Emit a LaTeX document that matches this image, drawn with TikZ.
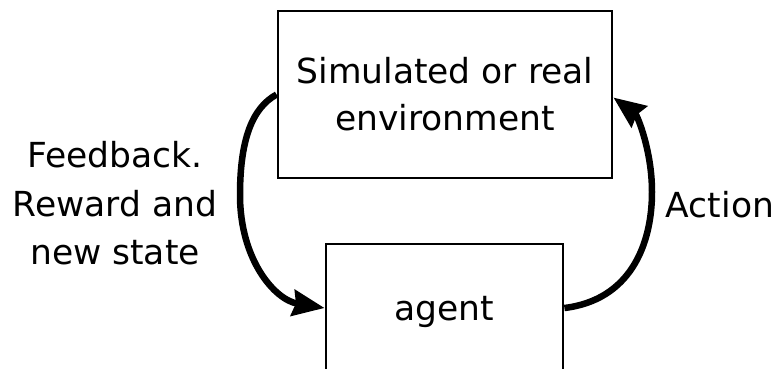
\documentclass[tikz,border=0pt]{standalone}
\usepackage{fontspec}
\setmainfont{DejaVu Sans}
\usetikzlibrary{arrows.meta}
\begin{document}
\begin{tikzpicture}[x=1pt,y=-1pt,
  boxnode/.style={draw=black,line width=2.8pt,fill=white,inner sep=0pt,align=center,
    font=\fontsize{34.5}{47}\selectfont},
  labelnode/.style={inner sep=0pt,align=center,font=\fontsize{34.5}{48.5}\selectfont},
  loop/.style={line width=6.5pt,-{Stealth[length=32pt,width=26pt,inset=3pt]}}]
\useasboundingbox (0,0) rectangle (780,368);
\clip (0,0) rectangle (780,368);
\node[boxnode,minimum width=334pt,minimum height=167pt] (env) at (445,94.5) {Simulated or real\\environment};
\node[boxnode,minimum width=237pt,minimum height=136pt] (agent) at (444.5,312) {agent};
\node[labelnode] (fb) at (115,203.5) {Feedback.\\Reward and\\new state};
\node[labelnode] (act) at (720,204.5) {Action};
\coordinate (lmid) at (240,195);
\coordinate (rmid) at (652,192);
\draw[loop] (env.west) .. controls (252,108) and (240,140) .. (lmid)
  .. controls (240,260) and (275,300) .. ([yshift=4pt]agent.west);
\draw[loop] ([yshift=4pt]agent.east) .. controls (630,300) and (652,245) .. (rmid)
  .. controls (652,150) and (637,115) .. ([yshift=-3pt]env.east);
\end{tikzpicture}
\end{document}
